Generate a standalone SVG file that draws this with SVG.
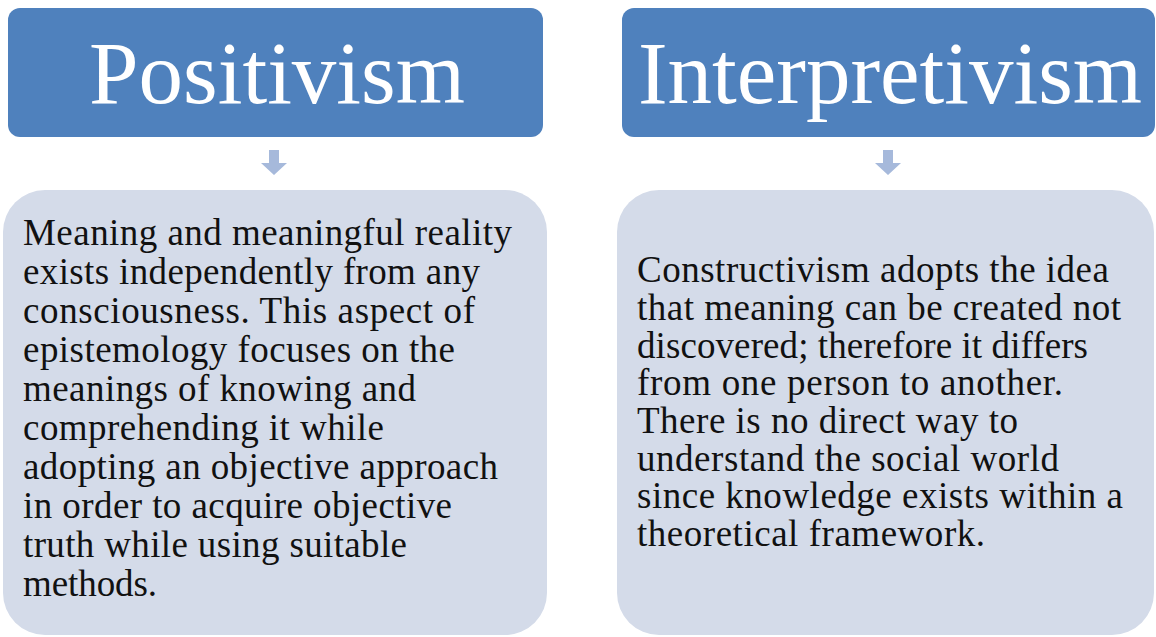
<svg xmlns="http://www.w3.org/2000/svg" width="1156" height="637" viewBox="0 0 1156 637">
  <style>
    .head { fill: #4F81BD; }
    .body { fill: #D4DBE9; }
    .arrow { fill: #A6B9DB; }
    .title { font-family: "Liberation Serif", "Times New Roman", serif; font-size: 89px; fill: #FFFFFF; text-anchor: middle; }
    .txt { font-family: "Liberation Serif", "Times New Roman", serif; font-size: 37px; fill: #111111; }
  </style>
  <rect width="1156" height="637" fill="#FFFFFF"/>

  <g id="positivism">
    <rect class="head" x="8" y="8" width="535" height="129" rx="12" ry="12"/>
    <text class="title" x="277" y="103">Positivism</text>
  </g>

  <g id="interpretivism">
    <rect class="head" x="622" y="8" width="533" height="129" rx="12" ry="12"/>
    <text class="title" x="890" y="103">Interpretivism</text>
  </g>

  <g id="positivism-detail">
    <rect class="body" x="3" y="190" width="544" height="445" rx="42" ry="42"/>
    <text class="txt" lengthAdjust="spacing">
      <tspan x="23" y="245" textLength="489">Meaning and meaningful reality</tspan>
      <tspan x="23" y="284" textLength="457">exists independently from any</tspan>
      <tspan x="23" y="323" textLength="452">consciousness. This aspect of</tspan>
      <tspan x="23" y="362" textLength="432">epistemology focuses on the</tspan>
      <tspan x="23" y="401" textLength="393">meanings of knowing and</tspan>
      <tspan x="23" y="440" textLength="361">comprehending it while</tspan>
      <tspan x="23" y="479" textLength="475">adopting an objective approach</tspan>
      <tspan x="23" y="518" textLength="429">in order to acquire objective</tspan>
      <tspan x="23" y="557" textLength="384">truth while using suitable</tspan>
      <tspan x="23" y="596" textLength="134">methods.</tspan>
    </text>
  </g>

  <g id="interpretivism-detail">
    <rect class="body" x="617" y="190" width="537" height="445" rx="42" ry="42"/>
    <text class="txt" lengthAdjust="spacing">
      <tspan x="637" y="282" textLength="472">Constructivism adopts the idea</tspan>
      <tspan x="637" y="320" textLength="484">that meaning can be created not</tspan>
      <tspan x="637" y="358" textLength="451">discovered; therefore it differs</tspan>
      <tspan x="637" y="395" textLength="426">from one person to another.</tspan>
      <tspan x="637" y="433" textLength="381">There is no direct way to</tspan>
      <tspan x="637" y="471" textLength="422">understand the social world</tspan>
      <tspan x="637" y="508" textLength="486">since knowledge exists within a</tspan>
      <tspan x="637" y="546" textLength="348">theoretical framework.</tspan>
    </text>
  </g>

  <g id="connectors">
    <polygon class="arrow" points="269,150 279,150 279,163 287,163 274,175 261,163 269,163"/>
    <polygon class="arrow" points="883,150 893,150 893,163 901,163 888,175 875,163 883,163"/>
  </g>
</svg>
